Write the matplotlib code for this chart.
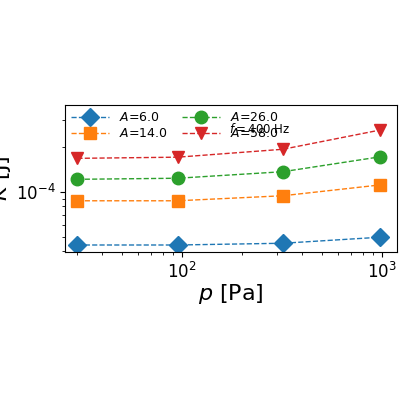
import matplotlib

matplotlib.use("Agg")
import matplotlib.pyplot as plt
from matplotlib.ticker import NullFormatter

p = [30, 95, 320, 980]
amps = [6.0, 14.0, 26.0, 58.0]
K = {
    6.0: [4.41e-5, 4.41e-5, 4.53e-5, 4.97e-5],
    14.0: [8.7e-5, 8.7e-5, 9.4e-5, 1.11e-4],
    26.0: [1.21e-4, 1.23e-4, 1.36e-4, 1.71e-4],
    58.0: [1.67e-4, 1.70e-4, 1.92e-4, 2.58e-4],
}
markers = ["D", "s", "o", "v"]
colors = ["tab:blue", "tab:orange", "tab:green", "tab:red"]

fig = plt.figure(figsize=(4, 4), dpi=100)
ax = fig.add_axes([0.1625, 0.37, 0.83, 0.3675])
for a, m, c in zip(amps, markers, colors):
    ax.plot(p, K[a], ls="--", lw=1, marker=m, ms=9, color=c, label=f"$A$={a}")
ax.set_xscale("log")
ax.set_yscale("log")
ax.set_xlim(26, 1190)
ax.set_ylim(3.96e-5, 3.79e-4)
ax.yaxis.set_minor_formatter(NullFormatter())
ax.set_xlabel("$p$ [Pa]", fontsize=16, labelpad=0)
ax.set_ylabel("$K$ [J]", fontsize=16, labelpad=2)
ax.tick_params(labelsize=12)
ax.legend(ncol=2, loc="upper left", frameon=False, fontsize=9,
          borderaxespad=0.1, handlelength=3, columnspacing=1.2, labelspacing=0.25)
ax.text(0.495, 0.84, "$f=400$ Hz", transform=ax.transAxes, fontsize=8.5, va="center")
fig.savefig("out.png", dpi=100)
